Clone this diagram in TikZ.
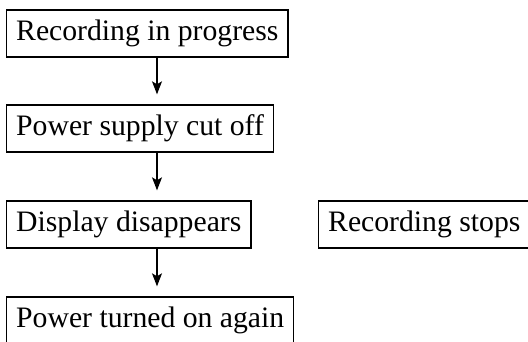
\documentclass[tikz,border=0pt]{standalone}
\usepackage{fontspec}
\setmainfont{Liberation Serif}
\usetikzlibrary{arrows.meta}
\begin{document}
\begin{tikzpicture}[x=1pt,y=1pt,
  stepbox/.style={draw,line width=1.4pt,anchor=west,minimum height=47pt,inner xsep=9.5pt,inner ysep=0pt,
    font=\fontsize{29.7}{30}\selectfont},
  flow/.style={line width=1.1pt,-{Stealth[length=13pt,width=10pt,inset=3pt]}}]
\useasboundingbox (0,0) rectangle (528,-341);
\clip (0,0) rectangle (528,-341);
\node[stepbox] (b1) at (6,-33.5) {Recording in progress};
\node[stepbox] (b2) at (6,-128.5) {Power supply cut off};
\node[stepbox] (b3) at (6,-224.5) {Display disappears};
\node[stepbox] (b4) at (318,-224.5) {\makebox[200pt][l]{Recording stops}};
\node[stepbox] (b5) at (6,-320.5) {Power turned on again};
\coordinate (col) at (157,0);
\draw[flow] (b1.south -| col) -- ([yshift=10pt]b2.north -| col);
\draw[flow] (b2.south -| col) -- ([yshift=10pt]b3.north -| col);
\draw[flow] (b3.south -| col) -- ([yshift=10pt]b5.north -| col);
\end{tikzpicture}
\end{document}
